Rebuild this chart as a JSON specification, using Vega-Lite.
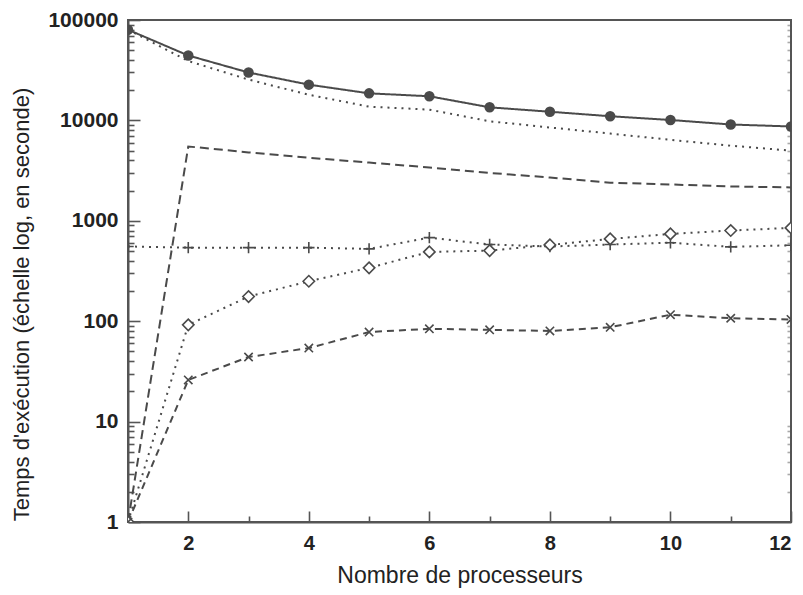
{
  "$schema": "https://vega.github.io/schema/vega-lite/v6.json",
  "width": 663,
  "height": 502,
  "autosize": {"type": "none"},
  "padding": {"left": 128, "top": 20, "right": 12, "bottom": 73},
  "background": "white",
  "config": {
    "view": {"stroke": "#555", "strokeWidth": 2},
    "font": "Liberation Sans",
    "axis": {"grid": false, "domainColor": "#555", "domainWidth": 2, "tickColor": "#555", "tickWidth": 1.6, "labelColor": "#222", "titleColor": "#222", "labelFont": "Liberation Sans", "titleFont": "Liberation Sans", "labelFontWeight": "bold", "titleFontWeight": "normal"},
    "axisY": {"labelFontSize": 21}
  },
  "data": {"values": [
    {"p": 1, "v": 80000, "s": "A"}, {"p": 2, "v": 44300, "s": "A"}, {"p": 3, "v": 30000, "s": "A"}, {"p": 4, "v": 22700, "s": "A"}, {"p": 5, "v": 18600, "s": "A"}, {"p": 6, "v": 17400, "s": "A"}, {"p": 7, "v": 13500, "s": "A"}, {"p": 8, "v": 12200, "s": "A"}, {"p": 9, "v": 11000, "s": "A"}, {"p": 10, "v": 10100, "s": "A"}, {"p": 11, "v": 9100, "s": "A"}, {"p": 12, "v": 8700, "s": "A"},
    {"p": 1, "v": 80000, "s": "B"}, {"p": 2, "v": 39000, "s": "B"}, {"p": 3, "v": 25500, "s": "B"}, {"p": 4, "v": 18000, "s": "B"}, {"p": 5, "v": 13700, "s": "B"}, {"p": 6, "v": 12800, "s": "B"}, {"p": 7, "v": 9800, "s": "B"}, {"p": 8, "v": 8500, "s": "B"}, {"p": 9, "v": 7400, "s": "B"}, {"p": 10, "v": 6400, "s": "B"}, {"p": 11, "v": 5600, "s": "B"}, {"p": 12, "v": 5000, "s": "B"},
    {"p": 1, "v": 1, "s": "C"}, {"p": 2, "v": 5500, "s": "C"}, {"p": 3, "v": 4800, "s": "C"}, {"p": 4, "v": 4250, "s": "C"}, {"p": 5, "v": 3800, "s": "C"}, {"p": 6, "v": 3400, "s": "C"}, {"p": 7, "v": 3000, "s": "C"}, {"p": 8, "v": 2700, "s": "C"}, {"p": 9, "v": 2400, "s": "C"}, {"p": 10, "v": 2300, "s": "C"}, {"p": 11, "v": 2200, "s": "C"}, {"p": 12, "v": 2150, "s": "C"},
    {"p": 1, "v": 555, "s": "D"}, {"p": 2, "v": 540, "s": "D"}, {"p": 3, "v": 540, "s": "D"}, {"p": 4, "v": 540, "s": "D"}, {"p": 5, "v": 525, "s": "D"}, {"p": 6, "v": 680, "s": "D"}, {"p": 7, "v": 580, "s": "D"}, {"p": 8, "v": 555, "s": "D"}, {"p": 9, "v": 580, "s": "D"}, {"p": 10, "v": 605, "s": "D"}, {"p": 11, "v": 550, "s": "D"}, {"p": 12, "v": 570, "s": "D"},
    {"p": 1, "v": 1, "s": "E"}, {"p": 2, "v": 92, "s": "E"}, {"p": 3, "v": 176, "s": "E"}, {"p": 4, "v": 250, "s": "E"}, {"p": 5, "v": 340, "s": "E"}, {"p": 6, "v": 490, "s": "E"}, {"p": 7, "v": 505, "s": "E"}, {"p": 8, "v": 575, "s": "E"}, {"p": 9, "v": 660, "s": "E"}, {"p": 10, "v": 740, "s": "E"}, {"p": 11, "v": 800, "s": "E"}, {"p": 12, "v": 850, "s": "E"},
    {"p": 1, "v": 1, "s": "F"}, {"p": 2, "v": 26, "s": "F"}, {"p": 3, "v": 44, "s": "F"}, {"p": 4, "v": 54, "s": "F"}, {"p": 5, "v": 78, "s": "F"}, {"p": 6, "v": 84, "s": "F"}, {"p": 7, "v": 82, "s": "F"}, {"p": 8, "v": 80, "s": "F"}, {"p": 9, "v": 87, "s": "F"}, {"p": 10, "v": 116, "s": "F"}, {"p": 11, "v": 107, "s": "F"}, {"p": 12, "v": 104, "s": "F"}
  ]},
  "resolve": {"axis": {"y": "independent"}},
  "layer": [
    {
      "mark": {"type": "line", "color": "#4a4a4a", "strokeWidth": 2, "clip": true},
      "encoding": {
        "x": {"field": "p", "type": "quantitative", "scale": {"domain": [1, 12], "nice": false, "zero": false},
          "axis": {"values": [1, 2, 3, 4, 5, 6, 7, 8, 9, 10, 11, 12], "format": "d", "labelExpr": "datum.value % 2 == 0 ? datum.label : ''",
            "tickSize": {"condition": {"test": "datum.value % 2 == 0", "value": -11}, "value": -6},
            "labelPadding": 22, "labelFontSize": 20, "title": "Nombre de processeurs", "titleFontSize": 23, "titlePadding": 11}},
        "y": {"field": "v", "type": "quantitative", "scale": {"type": "log", "domain": [1, 100000], "nice": false},
          "axis": {"values": [1, 2, 3, 4, 5, 6, 7, 8, 9, 10, 20, 30, 40, 50, 60, 70, 80, 90, 100, 200, 300, 400, 500, 600, 700, 800, 900, 1000, 2000, 3000, 4000, 5000, 6000, 7000, 8000, 9000, 10000, 20000, 30000, 40000, 50000, 60000, 70000, 80000, 90000, 100000],
            "labelExpr": "indexof([1, 10, 100, 1000, 10000, 100000], datum.value) >= 0 ? format(datum.value, 'd') : ''",
            "tickSize": {"condition": {"test": "indexof([1, 10, 100, 1000, 10000, 100000], datum.value) >= 0", "value": -12}, "value": -6},
            "labelPadding": 22, "labelFontSize": 21, "title": "Temps d'exécution (échelle log, en seconde)", "titleFontSize": 22, "titlePadding": 14, "titleY": 284}},
        "detail": {"field": "s"},
        "strokeDash": {"field": "s", "type": "nominal", "legend": null,
          "scale": {"domain": ["A", "B", "C", "D", "E", "F"], "range": [[1, 0], [2, 5], [9, 5], [2, 5], [2, 5], [7, 5]]}}
      }
    },
    {
      "layer": [
        {
          "transform": [{"filter": "datum.s == 'A'"}],
          "mark": {"type": "point", "shape": "circle", "filled": true, "color": "#4a4a4a", "size": 110, "opacity": 1, "clip": true}
        },
        {
          "transform": [{"filter": "datum.s == 'D'"}],
          "mark": {"type": "point", "shape": "M-1,0L1,0M0,-1L0,1", "filled": false, "color": "#4a4a4a", "size": 130, "strokeWidth": 1.6, "opacity": 1, "clip": true}
        },
        {
          "transform": [{"filter": "datum.s == 'E'"}],
          "mark": {"type": "point", "shape": "diamond", "filled": true, "fill": "white", "stroke": "#4a4a4a", "size": 130, "strokeWidth": 1.6, "opacity": 1, "clip": true}
        },
        {
          "transform": [{"filter": "datum.s == 'F'"}],
          "mark": {"type": "point", "shape": "M-1,-1L1,1M-1,1L1,-1", "filled": false, "color": "#4a4a4a", "size": 70, "strokeWidth": 1.6, "opacity": 1, "clip": true}
        }
      ],
      "encoding": {
        "x": {"field": "p", "type": "quantitative"},
        "y": {"field": "v", "type": "quantitative",
          "axis": {"orient": "right", "values": [2, 3, 4, 5, 6, 7, 8, 9, 20, 30, 40, 50, 60, 70, 80, 90, 200, 300, 400, 500, 600, 700, 800, 900, 2000, 3000, 4000, 5000, 6000, 7000, 8000, 9000, 20000, 30000, 40000, 50000, 60000, 70000, 80000, 90000],
            "labels": false, "title": null, "domain": false, "tickSize": -4, "tickOpacity": 0.5}}
      }
    }
  ]
}
